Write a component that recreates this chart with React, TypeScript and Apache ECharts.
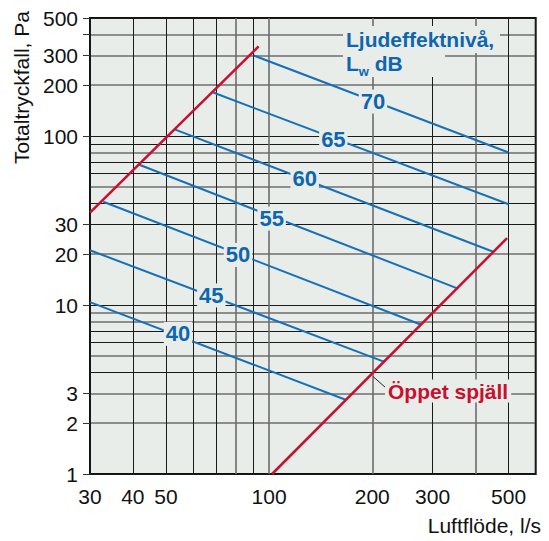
import React, { useEffect, useRef } from "react";
import * as echarts from "echarts";

// Sound power level lines, Lw dB (start on upper "open damper" line, end on lower one or at 500 l/s)
const levels = ["40", "45", "50", "55", "60", "65", "70"];
const levelStartFlow = [30, 30, 32.8, 41.8, 53, 68.7, 90.2];
const levelStartPressure = [10.4, 21.1, 40.9, 67.7, 109.6, 181, 300];
const levelEndFlow = [168, 217, 278, 356, 453, 500, 500];
const levelEndPressure = [2.74, 4.61, 7.65, 12.5, 20.6, 39.5, 80];
const levelLabelFlow = [54.2, 67.8, 81.1, 101.7, 127, 154, 201];
const levelLabelPressure = [6.75, 11.4, 19.8, 32.5, 55.8, 96, 160];

// "Öppet spjäll" boundary lines
const upperFlow = [30, 93.2];
const upperPressure = [35.2, 340];
const lowerFlow = [102, 495];
const lowerPressure = [1, 24.9];

// Axis ticks / grid
const xTickLabels = [30, 40, 50, 100, 200, 300, 500];
const yTickLabels = [1, 2, 3, 10, 20, 30, 100, 200, 300, 500];
const yTickMarks = [1, 2, 3, 10, 20, 30, 100, 200, 300, 400, 500];
const xGridDark = [30, 40, 50, 60, 70, 90, 300, 500, 600];
const xGridGray = [80, 100, 200, 400];
const yGridDark = [1, 4, 6, 7, 10, 30, 40, 60, 70, 90, 100, 500];
const yGridGray = [2, 3, 5, 8, 9, 20, 50, 80, 200, 300, 400];

const FONT = "'Liberation Sans', Arial, Helvetica, sans-serif";
const BG = "#e9edea";
const BLUE_LINE = "#1670b8";
const BLUE_TEXT = "#0e66ae";
const RED = "#c8102e";
const DARK = "#1a1a1a";
const GRAY = "#6c6c6c";

const lg = (v: number) => Math.log10(v);
const fmt = (v: number) => String(Math.round(Math.pow(10, v)));

const xMin = lg(30);
const xMax = lg(600);
const yMin = lg(1);
const yMax = lg(500);

function buildOption() {
  const blueSeries = levels.map((lv, i) => ({
    type: "line",
    name: lv,
    xAxisIndex: 0,
    yAxisIndex: 0,
    symbol: "none",
    silent: true,
    z: 3,
    lineStyle: { color: BLUE_LINE, width: 2 },
    data: [
      [lg(levelStartFlow[i]), lg(levelStartPressure[i])],
      [lg(levelEndFlow[i]), lg(levelEndPressure[i])],
    ],
  }));

  const redSeries = [
    [upperFlow, upperPressure],
    [lowerFlow, lowerPressure],
  ].map(([fx, fy]) => ({
    type: "line",
    xAxisIndex: 0,
    yAxisIndex: 0,
    symbol: "none",
    silent: true,
    z: 4,
    lineStyle: { color: RED, width: 2.5 },
    data: fx.map((q, i) => [lg(q), lg(fy[i])]),
  }));

  const labelSeries = {
    type: "scatter",
    xAxisIndex: 0,
    yAxisIndex: 0,
    symbolSize: 1,
    silent: true,
    z: 6,
    itemStyle: { color: "transparent" },
    label: {
      show: true,
      position: "inside",
      formatter: "{b}",
      color: BLUE_TEXT,
      fontSize: 22,
      fontWeight: "bold",
      fontFamily: FONT,
      backgroundColor: BG,
      padding: [1, 2],
      opacity: 1,
    },
    data: levels.map((lv, i) => ({
      name: lv,
      value: [lg(levelLabelFlow[i]), lg(levelLabelPressure[i])],
    })),
  };

  return {
    animation: false,
    textStyle: { fontFamily: FONT },
    grid: {
      left: 90,
      top: 18,
      right: 13.3,
      bottom: 67,
      show: true,
      backgroundColor: BG,
      borderColor: "#111",
      borderWidth: 2,
      containLabel: false,
      outerBoundsMode: "none",
    },
    xAxis: [
      {
        type: "value",
        min: xMin,
        max: xMax,
        axisLine: { show: false },
        axisTick: { show: false, customValues: xGridDark.map(lg) },
        axisLabel: {
          show: true,
          customValues: xTickLabels.map(lg),
          formatter: fmt,
          fontSize: 21,
          color: "#111",
          margin: 12,
          fontFamily: FONT,
        },
        splitLine: { show: true, lineStyle: { color: DARK, width: 1 } },
      },
      {
        type: "value",
        min: xMin,
        max: xMax,
        position: "bottom",
        axisLine: { show: false },
        axisTick: { show: false, customValues: xGridGray.map(lg) },
        axisLabel: { show: false },
        splitLine: { show: true, lineStyle: { color: GRAY, width: 1.6 } },
      },
    ],
    yAxis: [
      {
        type: "value",
        min: yMin,
        max: yMax,
        position: "left",
        axisLine: { show: false },
        axisTick: { show: false, customValues: yGridDark.map(lg) },
        axisLabel: { show: false },
        splitLine: { show: true, lineStyle: { color: DARK, width: 1 } },
      },
      {
        type: "value",
        min: yMin,
        max: yMax,
        position: "left",
        axisLine: { show: false },
        axisTick: { show: false, customValues: yGridGray.map(lg) },
        axisLabel: { show: false },
        splitLine: { show: true, lineStyle: { color: GRAY, width: 1.6 } },
      },
      {
        type: "value",
        min: yMin,
        max: yMax,
        position: "left",
        axisLine: { show: false },
        axisTick: {
          show: true,
          inside: false,
          length: 7,
          customValues: yTickMarks.map(lg),
          lineStyle: { color: "#333", width: 1 },
        },
        axisLabel: {
          show: true,
          customValues: yTickLabels.map(lg),
          formatter: fmt,
          fontSize: 21,
          color: "#111",
          margin: 12,
          fontFamily: FONT,
        },
        splitLine: { show: false },
      },
    ],
    series: [...blueSeries, ...redSeries, labelSeries],
    graphic: [
      {
        type: "text",
        x: 21.7,
        y: 87.5,
        rotation: Math.PI / 2,
        z: 100,
        style: {
          text: "Totaltryckfall, Pa",
          fontSize: 21,
          fontFamily: FONT,
          fill: "#111",
          align: "center",
          verticalAlign: "middle",
        },
      },
      {
        type: "text",
        x: 541,
        y: 525.7,
        z: 100,
        style: {
          text: "Luftflöde, l/s",
          fontSize: 21,
          fontFamily: FONT,
          fill: "#111",
          align: "right",
          verticalAlign: "middle",
        },
      },
      {
        type: "rect",
        z: 100,
        shape: { x: 343, y: 26, width: 157, height: 27 },
        style: { fill: BG },
      },
      {
        type: "rect",
        z: 100,
        shape: { x: 343, y: 53, width: 102, height: 24 },
        style: { fill: BG },
      },
      {
        type: "text",
        x: 346,
        y: 29.2,
        z: 101,
        style: {
          text: "{a|Ljudeffektnivå,}\n{a|L}{s|w}{a| dB}",
          fontFamily: FONT,
          fill: BLUE_TEXT,
          align: "left",
          verticalAlign: "top",
          rich: {
            a: {
              fontSize: 21,
              lineHeight: 23.5,
              fontWeight: "bold",
              fontFamily: FONT,
              fill: BLUE_TEXT,
              verticalAlign: "top",
            },
            s: {
              fontSize: 13,
              lineHeight: 25.3,
              fontWeight: "bold",
              fontFamily: FONT,
              fill: BLUE_TEXT,
              verticalAlign: "bottom",
            },
          },
        },
      },
      {
        type: "line",
        z: 100,
        shape: { x1: 373, y1: 376.5, x2: 386, y2: 388 },
        style: { stroke: "#222", lineWidth: 1 },
      },
      {
        type: "text",
        x: 385,
        y: 391,
        z: 100,
        style: {
          text: "Öppet spjäll",
          fontSize: 21,
          fontWeight: "bold",
          fontFamily: FONT,
          fill: RED,
          align: "left",
          verticalAlign: "middle",
          backgroundColor: BG,
          padding: [1, 3],
        },
      },
    ],
  };
}

export default function App() {
  const ref = useRef<HTMLDivElement>(null);
  useEffect(() => {
    document.body.style.margin = "0";
    if (!ref.current) return;
    const chart = echarts.init(ref.current, null, { renderer: "svg" });
    chart.setOption(buildOption() as any);
    return () => chart.dispose();
  }, []);
  return <div ref={ref} style={{ width: 549, height: 541 }} />;
}
